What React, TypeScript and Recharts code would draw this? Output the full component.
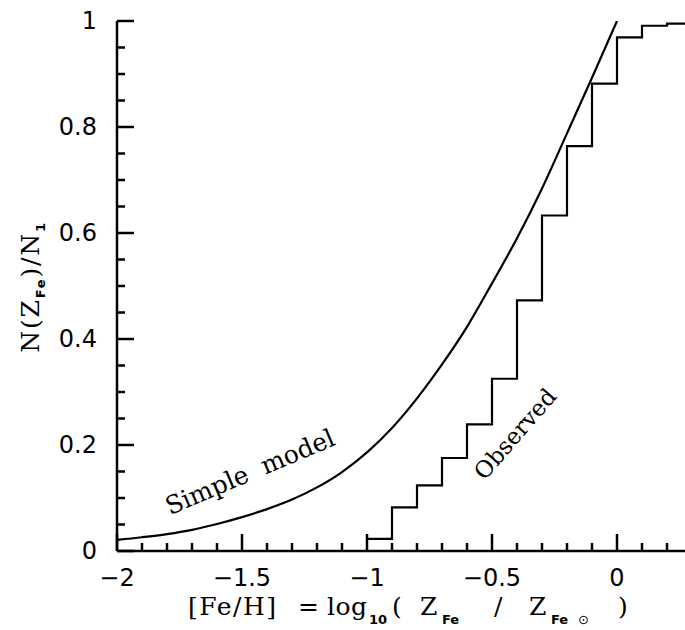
import { LineChart, Line, XAxis, YAxis } from 'recharts'

// Cumulative [Fe/H] distribution: simple closed-box model vs observed stars

const modelFeH = [-2, -1.9, -1.8, -1.7, -1.6, -1.5, -1.4, -1.3, -1.2, -1.1, -1, -0.9, -0.8, -0.7, -0.6, -0.5, -0.4, -0.3, -0.2, -0.1, 0]
const modelN = [0.021, 0.026, 0.032, 0.04, 0.051, 0.064, 0.079, 0.097, 0.12, 0.149, 0.186, 0.232, 0.288, 0.352, 0.423, 0.505, 0.59, 0.684, 0.788, 0.893, 1]

const obsFeH = [-1, -0.9, -0.8, -0.7, -0.6, -0.5, -0.4, -0.3, -0.2, -0.1, 0, 0.1, 0.2, 0.3]
const obsN = [0.023, 0.0825, 0.124, 0.1755, 0.239, 0.325, 0.473, 0.633, 0.764, 0.882, 0.969, 0.991, 0.995, 0.995]

const xTicks = [-2, -1.9, -1.8, -1.7, -1.6, -1.5, -1.4, -1.3, -1.2, -1.1, -1, -0.9, -0.8, -0.7, -0.6, -0.5, -0.4, -0.3, -0.2, -0.1, 0, 0.1, 0.2, 0.3]
const yTicks = [0, 0.05, 0.1, 0.15, 0.2, 0.25, 0.3, 0.35, 0.4, 0.45, 0.5, 0.55, 0.6, 0.65, 0.7, 0.75, 0.8, 0.85, 0.9, 0.95, 1]
const xLabels: Record<string, string> = { '-2': '−2', '-1.5': '−1.5', '-1': '−1', '-0.5': '−0.5', '0': '0' }
const yLabels: Record<string, string> = { '0': '0', '0.2': '0.2', '0.4': '0.4', '0.6': '0.6', '0.8': '0.8', '1': '1' }

const modelData = modelFeH.map((x, i) => ({ x, y: modelN[i] }))
const obsData = obsFeH.map((x, i) => ({ x, y: obsN[i] }))

const SANS = '"DejaVu Sans", sans-serif'
const SERIF = '"DejaVu Serif", serif'
const LW = 2.5

const isMajor = (v: number, step: number) => Math.abs(v / step - Math.round(v / step)) < 1e-6

function XTick({ x, y, payload, side }: any) {
  const v = payload.value
  const len = isMajor(v, 0.5) ? 17 : 8
  const dir = side === 'top' ? 1 : -1
  const label = side === 'top' ? undefined : xLabels[String(v)]
  return (
    <g>
      <line x1={x} y1={y} x2={x} y2={y + dir * len} stroke="#000" strokeWidth={LW} />
      {label && (
        <text x={x} y={y + 27} textAnchor="middle" dominantBaseline="central" fontFamily={SANS} fontSize={24} fill="#000">
          {label}
        </text>
      )}
    </g>
  )
}

function YTick({ x, y, payload, side }: any) {
  const v = payload.value
  const len = isMajor(v, 0.2) ? 17 : 8
  const dir = side === 'right' ? -1 : 1
  const label = side === 'right' ? undefined : yLabels[String(v)]
  return (
    <g>
      <line x1={x} y1={y} x2={x + dir * len} y2={y} stroke="#000" strokeWidth={LW} />
      {label && (
        <text x={x - 20} y={y} textAnchor="end" dominantBaseline="central" fontFamily={SANS} fontSize={24} fill="#000">
          {label}
        </text>
      )}
    </g>
  )
}

const subProps = { fontFamily: SANS, fontWeight: 'bold', fontSize: 13 } as const
const serifProps = { fontFamily: SERIF, fontSize: 25, fill: '#000' } as const

function Titles() {
  const base = 615
  const sb = 624
  return (
    <svg width={685} height={630} style={{ position: 'absolute', left: 0, top: 0, pointerEvents: 'none' }}>
      <g transform="translate(39, 287) rotate(-90)">
        <text x={0} y={0} textAnchor="middle" {...serifProps} letterSpacing={1.8}>
          N(Z
          <tspan {...subProps} dy={6}>Fe</tspan>
          <tspan dy={-6}>)/N</tspan>
          <tspan {...subProps} dy={6}>1</tspan>
        </text>
      </g>

      <g {...serifProps}>
        <text x={188} y={base} letterSpacing={1.5}>[Fe/H]</text>
        <text x={298} y={base}>=</text>
        <text x={327} y={base} letterSpacing={0.5}>log</text>
        <text x={369} y={sb} {...subProps}>10</text>
        <text x={392} y={base}>(</text>
        <text x={420} y={base}>Z</text>
        <text x={442} y={sb} {...subProps}>Fe</text>
        <text x={494} y={base}>/</text>
        <text x={529} y={base}>Z</text>
        <text x={551} y={sb} {...subProps}>Fe</text>
        <text x={578} y={sb} fontFamily={SANS} fontSize={13}>⊙</text>
        <text x={618} y={base}>)</text>
      </g>

      <g transform="translate(250, 472) rotate(-23)">
        <text x={0} y={0} textAnchor="middle" dominantBaseline="central" {...serifProps} style={{ whiteSpace: 'pre' }}>
          Simple  model
        </text>
      </g>
      <g transform="translate(515, 434) rotate(-49)">
        <text x={0} y={0} textAnchor="middle" dominantBaseline="central" {...serifProps} fontSize={23}>
          Observed
        </text>
      </g>
    </svg>
  )
}

export default function App() {
  const axisLine = { stroke: '#000', strokeWidth: LW }
  return (
    <div style={{ position: 'absolute', left: 0, top: 0, width: 685, height: 630, overflow: 'hidden', background: '#fff' }}>
      <LineChart width={700} height={630} margin={{ top: 21, right: 8, left: 0, bottom: 0 }}>
        <XAxis
          xAxisId="b"
          type="number"
          dataKey="x"
          domain={[-2, 0.3]}
          ticks={xTicks}
          interval={0}
          height={79}
          tickSize={0}
          tickMargin={0}
          tickLine={false}
          axisLine={axisLine}
          tick={<XTick side="bottom" />}
          allowDataOverflow
        />
        <XAxis
          xAxisId="t"
          orientation="top"
          type="number"
          dataKey="x"
          domain={[-2, 0.3]}
          ticks={xTicks}
          interval={0}
          height={0}
          tickSize={0}
          tickMargin={0}
          tickLine={false}
          axisLine={axisLine}
          tick={<XTick side="top" />}
          allowDataOverflow
        />
        <YAxis
          yAxisId="l"
          type="number"
          domain={[0, 1]}
          ticks={yTicks}
          interval={0}
          width={117}
          tickSize={0}
          tickMargin={0}
          tickLine={false}
          axisLine={axisLine}
          tick={<YTick side="left" />}
          allowDataOverflow
        />
        <YAxis
          yAxisId="r"
          orientation="right"
          type="number"
          domain={[0, 1]}
          ticks={yTicks}
          interval={0}
          width={0}
          tickSize={0}
          tickMargin={0}
          tickLine={false}
          axisLine={axisLine}
          tick={<YTick side="right" />}
          allowDataOverflow
        />
        <Line
          xAxisId="b"
          yAxisId="l"
          data={modelData}
          dataKey="y"
          type="monotone"
          stroke="#000"
          strokeWidth={2.2}
          dot={false}
          activeDot={false}
          isAnimationActive={false}
        />
        <Line
          xAxisId="b"
          yAxisId="l"
          data={obsData}
          dataKey="y"
          type="stepAfter"
          stroke="#000"
          strokeWidth={2.2}
          dot={false}
          activeDot={false}
          isAnimationActive={false}
        />
      </LineChart>
      <Titles />
    </div>
  )
}
